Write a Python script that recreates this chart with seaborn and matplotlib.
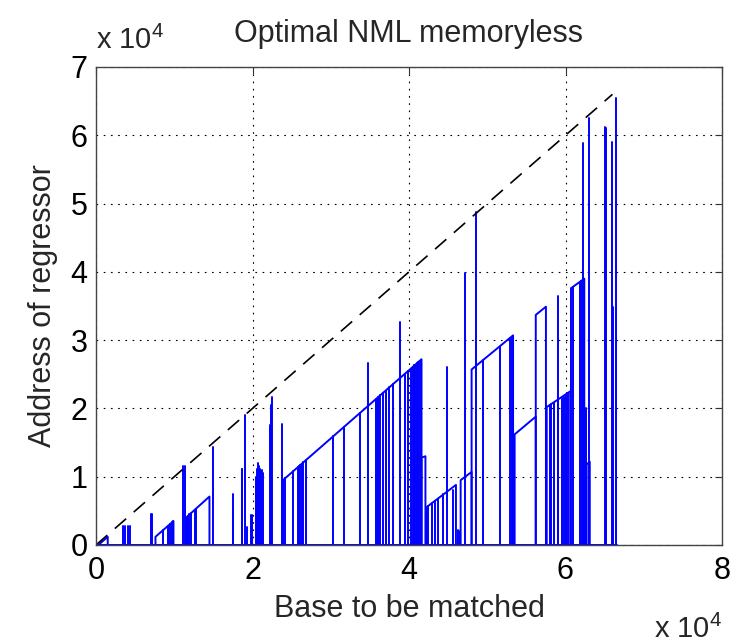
import numpy as np
import pandas as pd
import matplotlib
matplotlib.use("Agg")
import matplotlib.pyplot as plt
import seaborn as sns

# ---- data (both axes in units of 10^4) ----
# isolated spikes: base position and address reached
spike_x = [0.35, 0.37, 0.41, 0.43, 0.70, 0.72, 0.86, 0.92, 0.95, 0.97, 0.99,
           1.11, 1.14, 1.17, 1.19, 1.21, 1.26, 1.28, 1.49, 1.745, 1.75,
           1.86, 1.87, 1.91, 1.93, 1.98, 1.99,
           2.05, 2.06, 2.07, 2.08, 2.09, 2.10, 2.12, 2.13,
           2.22, 2.24, 2.25, 2.38,
           2.42, 2.52, 2.58, 2.60, 2.61, 2.63, 2.65, 2.69, 3.03, 3.17, 3.37,
           3.47, 3.58, 3.60, 3.61, 3.63, 3.67, 3.70, 3.75, 3.80, 3.88, 3.95,
           3.99, 4.02, 4.05, 4.07, 4.08, 4.10, 4.12, 4.14,
           4.24, 4.29, 4.33, 4.37, 4.44, 4.48, 4.56, 4.63, 4.65, 4.72,
           4.85, 4.95, 5.16, 5.29, 5.31,
           5.80, 5.82, 5.85, 5.90, 5.91, 5.95, 5.98, 6.01, 6.03,
           6.10, 6.18, 6.20, 6.22, 6.23, 6.25, 6.26, 6.30,
           6.50, 6.52, 6.59, 6.61, 6.65]
spike_y = [0.28, 0.28, 0.28, 0.28, 0.45, 0.45, 0.22, 0.28, 0.31, 0.33, 0.35,
           1.15, 1.15, 0.43, 0.45, 0.47, 0.51, 0.53, 1.44, 0.74, 0.50,
           1.12, 1.12, 1.90, 0.27, 0.44, 0.44,
           1.00, 1.12, 1.20, 1.15, 1.10, 1.12, 1.10, 1.05,
           1.76, 2.05, 2.17, 1.77,
           0.98, 1.08, 1.14, 1.16, 1.17, 1.19, 1.21, 1.25, 1.59, 1.73, 1.93,
           2.66, 2.14, 2.16, 2.17, 2.19, 2.23, 2.26, 2.31, 2.36, 3.27, 2.51,
           2.55, 2.58, 2.61, 2.63, 2.64, 2.66, 2.68, 2.70,
           0.57, 0.61, 0.65, 0.68, 0.74, 2.61, 0.81, 0.22, 0.20, 3.98,
           4.88, 2.71, 2.90, 3.03, 3.05,
           2.05, 2.06, 2.08, 3.64, 2.12, 2.15, 2.17, 2.20, 2.22,
           3.78, 3.85, 3.86, 5.88, 3.89, 1.20, 2.00, 6.25,
           6.12, 6.10, 5.90, 3.49, 6.55]

# ramps (address growing with the base), start and end points
ramp_x0 = [0.05, 0.76, 1.16, 2.39, 4.16, 4.22, 4.66, 4.80, 5.35, 5.62, 5.76, 6.07, 6.27]
ramp_y0 = [0.02, 0.12, 0.41, 0.95, 1.28, 0.55, 0.95, 2.57, 1.62, 3.37, 2.02, 3.76, 1.18]
ramp_x1 = [0.15, 0.99, 1.45, 4.16, 4.21, 4.60, 4.80, 5.33, 5.62, 5.75, 6.06, 6.24, 6.31]
ramp_y1 = [0.12, 0.35, 0.71, 2.72, 1.30, 0.88, 1.07, 3.07, 1.88, 3.49, 2.25, 3.90, 1.22]

baseline_x = [0.0, 6.66]
diag_x = [0.0, 6.6]
diag_y = [0.0, 6.6]

x_ticks = [0, 2, 4, 6, 8]
y_ticks = [0, 1, 2, 3, 4, 5, 6, 7]

# ---- build long-form table, one unit per drawn piece ----
rows = []
pid = 0
rows += [(pid, baseline_x[0], 0.0, 0), (pid, baseline_x[1], 0.0, 1)]
for x, h in zip(spike_x, spike_y):
    pid += 1
    rows += [(pid, x, 0.0, 0), (pid, x, h, 1)]
for x0, y0, x1, y1 in zip(ramp_x0, ramp_y0, ramp_x1, ramp_y1):
    pid += 1
    rows += [(pid, x0, 0.0, 0), (pid, x0, y0, 1), (pid, x1, y1, 2), (pid, x1, 0.0, 3)]
df = pd.DataFrame(rows, columns=["piece", "x", "y", "order"])
diag = pd.DataFrame({"x": diag_x, "y": diag_y})

sns.set_style("white")
plt.rcParams["font.family"] = ["Liberation Sans", "DejaVu Sans"]
plt.rcParams["mathtext.fontset"] = "custom"
plt.rcParams["mathtext.rm"] = "Liberation Sans"
plt.rcParams["mathtext.default"] = "regular"

fig = plt.figure(figsize=(7.38, 6.43), dpi=100)
ax = fig.add_axes([96 / 738, 1 - 545 / 643, (722 - 96) / 738, (545 - 67) / 643])

sns.lineplot(data=df, x="x", y="y", units="piece", estimator=None, sort=False,
             color=(0, 0, 1), linewidth=1.4, ax=ax)
sns.lineplot(data=diag, x="x", y="y", color="black", linewidth=1.2,
             dashes=False, ax=ax, sort=False)
ax.lines[-1].set_dashes((9, 6))

ax.set_xlim(0, 8)
ax.set_ylim(0, 7)
ax.set_xticks(x_ticks)
ax.set_yticks(y_ticks)
ax.set_xticklabels([str(t) for t in x_ticks])
ax.set_yticklabels([str(t) for t in y_ticks])
ax.grid(True, color="black", linestyle=(0, (1.5, 5)), linewidth=0.8)
ax.tick_params(direction="in", length=5, width=0.8, labelsize=22,
               top=True, right=True, colors="#333333", labelcolor="black")
ax.tick_params(axis="x", pad=8)
ax.tick_params(axis="y", pad=6)
for s in ax.spines.values():
    s.set_color("#444444")
    s.set_linewidth(1.0)

ax.set_title("Optimal NML memoryless", fontsize=22, pad=18)
ax.set_xlabel("Base to be matched", fontsize=22, labelpad=6)
ax.set_ylabel("Address of regressor", fontsize=22, labelpad=9)
ax.text(0.0, 1.025, r"x 10$^{4}$", transform=ax.transAxes, ha="left",
        va="bottom", fontsize=21)
ax.text(1.0, -0.145, r"x 10$^{4}$", transform=ax.transAxes, ha="right",
        va="top", fontsize=21)

fig.savefig("out.png", dpi=100)
